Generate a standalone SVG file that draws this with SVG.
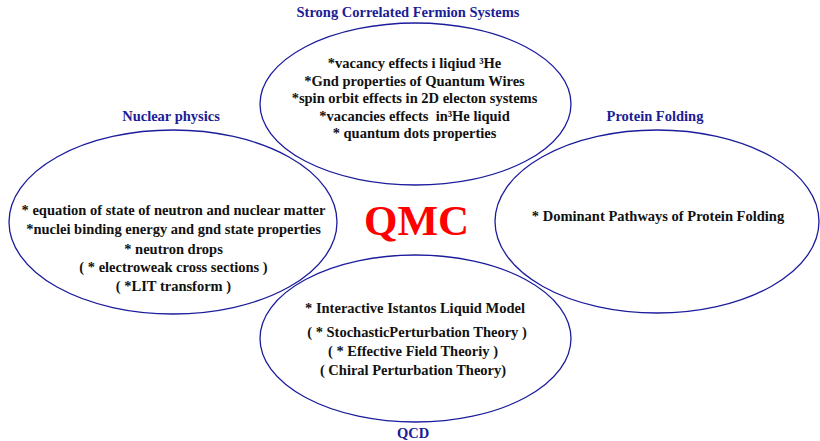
<svg xmlns="http://www.w3.org/2000/svg" width="820" height="441" viewBox="0 0 820 441">
<style>
.ell{fill:none;stroke:#1c1c9c;stroke-width:1.3}
.t{font-family:"Liberation Serif","Times New Roman",serif;font-weight:bold;font-size:14.5px;fill:#111;text-anchor:middle;white-space:pre}
.h{font-family:"Liberation Serif","Times New Roman",serif;font-weight:bold;font-size:14.5px;fill:#1c1c96;text-anchor:middle}
.q{font-family:"Liberation Serif","Times New Roman",serif;font-weight:bold;font-size:43px;fill:#ff0000;text-anchor:middle}
</style>
<rect width="820" height="441" fill="#ffffff"/>
<g id="strong-correlated">
<ellipse class="ell" cx="415.5" cy="104" rx="155.5" ry="81"/>
<text class="h" x="408" y="17">Strong Correlated Fermion Systems</text>
<text class="t" x="414.5" y="68" xml:space="preserve">*vacancy effects i liqiud ³He</text>
<text class="t" x="414.5" y="86" xml:space="preserve">*Gnd properties of Quantum Wires</text>
<text class="t" x="414.5" y="103" xml:space="preserve">*spin orbit effects in 2D electon systems</text>
<text class="t" x="414.5" y="121" xml:space="preserve">*vacancies effects  in³He liquid</text>
<text class="t" x="414.5" y="138" xml:space="preserve">* quantum dots properties</text>
</g>
<g id="nuclear-physics">
<ellipse class="ell" cx="173" cy="222" rx="164" ry="92"/>
<text class="h" x="171" y="121">Nuclear physics</text>
<text class="t" x="173.5" y="215" xml:space="preserve">* equation of state of neutron and nuclear matter</text>
<text class="t" x="173.5" y="234" xml:space="preserve">*nuclei binding energy and gnd state properties</text>
<text class="t" x="173.5" y="254" xml:space="preserve">* neutron drops</text>
<text class="t" x="173.5" y="272" xml:space="preserve">( * electroweak cross sections )</text>
<text class="t" x="173.5" y="291" xml:space="preserve">( *LIT transform )</text>
</g>
<g id="protein-folding">
<ellipse class="ell" cx="657" cy="221.5" rx="162" ry="91.5"/>
<text class="h" x="655" y="121">Protein Folding</text>
<text class="t" x="658" y="221" xml:space="preserve">* Dominant Pathways of Protein Folding</text>
</g>
<g id="qcd">
<ellipse class="ell" cx="415.5" cy="338.5" rx="155.5" ry="83.5"/>
<text class="h" x="413" y="438">QCD</text>
<text class="t" x="415" y="313" xml:space="preserve">* Interactive Istantos Liquid Model</text>
<text class="t" x="417" y="337" xml:space="preserve">( * StochasticPerturbation Theory )</text>
<text class="t" x="413" y="356" xml:space="preserve">( * Effective Field Theoriy )</text>
<text class="t" x="413" y="375" xml:space="preserve">( Chiral Perturbation Theory)</text>
</g>
<g id="qmc">
<text class="q" x="416.5" y="235">QMC</text>
</g>
<g id="connectors"/>
</svg>
